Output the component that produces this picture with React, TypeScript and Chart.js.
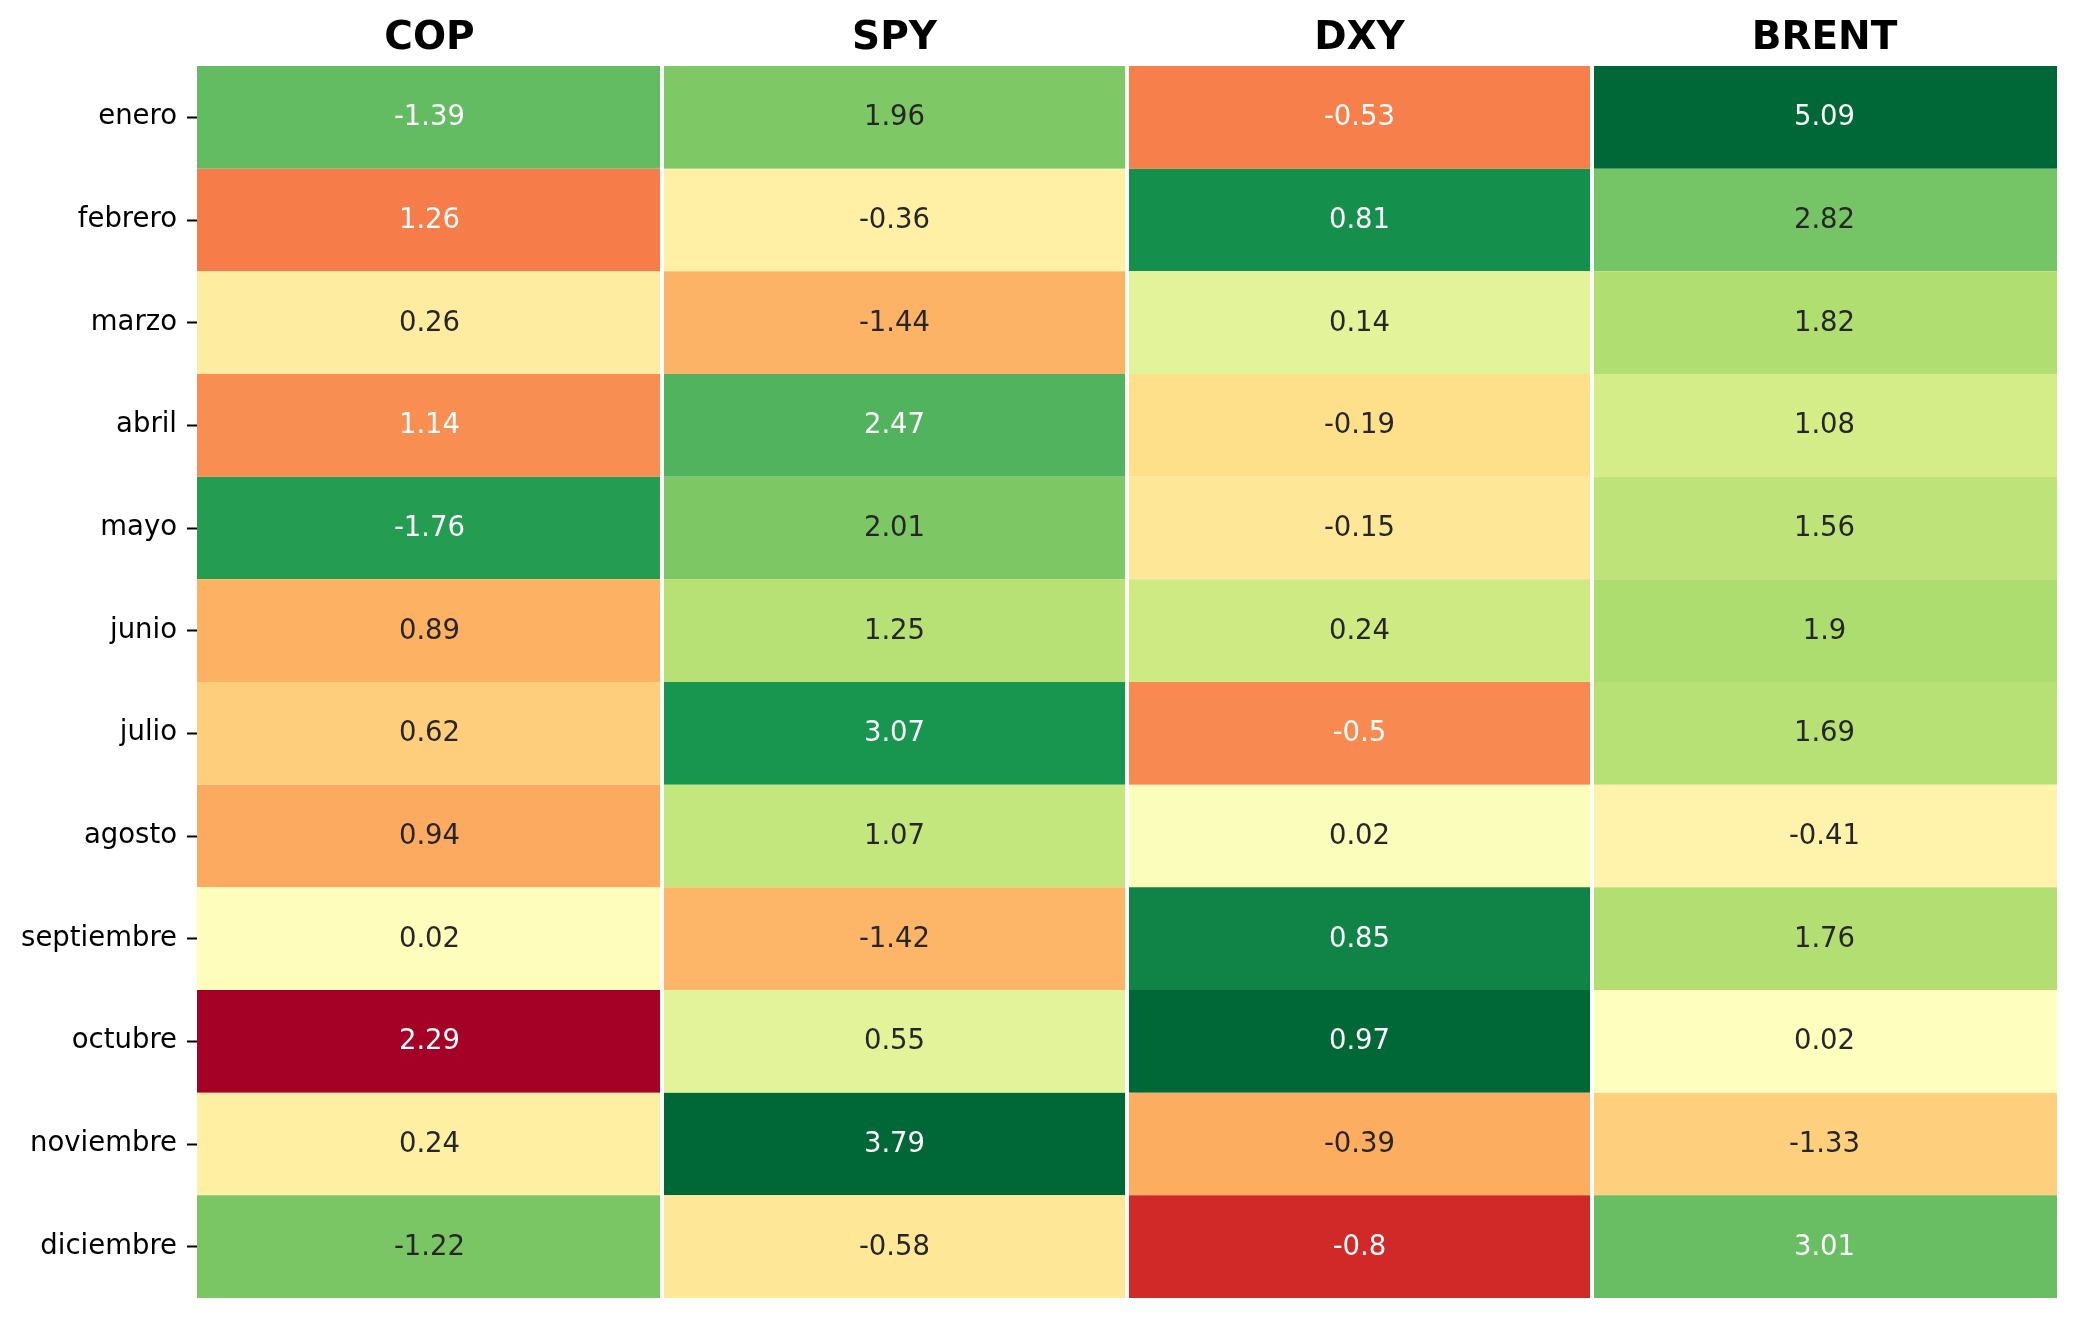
import React, { useEffect, useRef } from "react";
import { Chart, registerables } from "chart.js";

Chart.register(...registerables);

// ---- data ----
const months = [
  "enero", "febrero", "marzo", "abril", "mayo", "junio",
  "julio", "agosto", "septiembre", "octubre", "noviembre", "diciembre",
];
const columns = ["COP", "SPY", "DXY", "BRENT"];
const copValues = [-1.39, 1.26, 0.26, 1.14, -1.76, 0.89, 0.62, 0.94, 0.02, 2.29, 0.24, -1.22];
const spyValues = [1.96, -0.36, -1.44, 2.47, 2.01, 1.25, 3.07, 1.07, -1.42, 0.55, 3.79, -0.58];
const dxyValues = [-0.53, 0.81, 0.14, -0.19, -0.15, 0.24, -0.5, 0.02, 0.85, 0.97, -0.39, -0.8];
const brentValues = [5.09, 2.82, 1.82, 1.08, 1.56, 1.9, 1.69, -0.41, 1.76, 0.02, -1.33, 3.01];
// COP uses the reversed colour scale (a stronger peso is green)
const reversedScale = [true, false, false, false];

// ---- style ----
const RDYLGN = [
  "#a50026", "#d73027", "#f46d43", "#fdae61", "#fee08b", "#ffffbf",
  "#d9ef8b", "#a6d96a", "#66bd63", "#1a9850", "#006837",
];
const FONT = '"DejaVu Sans", "Liberation Sans", sans-serif';

function hexToRgb(h: string): number[] {
  return [1, 3, 5].map((i) => parseInt(h.slice(i, i + 2), 16));
}
const STOPS = RDYLGN.map(hexToRgb);

function cmap(t: number): number[] {
  const N = 256;
  let i = Math.floor(t * N);
  if (i >= N) i = N - 1;
  if (i < 0) i = 0;
  const x = (i / (N - 1)) * (STOPS.length - 1);
  const k = Math.min(STOPS.length - 2, Math.floor(x));
  const f = x - k;
  return STOPS[k].map((c, j) => Math.round(c + (STOPS[k + 1][j] - c) * f));
}

function luminance(rgb: number[]): number {
  const l = rgb.map((c) => {
    const v = c / 255;
    return v <= 0.03928 ? v / 12.92 : Math.pow((v + 0.055) / 1.055, 2.4);
  });
  return 0.2126 * l[0] + 0.7152 * l[1] + 0.0722 * l[2];
}

function colourFor(values: number[], reversed: boolean): number[][] {
  const vmax = Math.max(...values.map((v) => Math.abs(v)));
  return values.map((v) => {
    let t = (v + vmax) / (2 * vmax);
    if (reversed) t = 1 - t;
    return cmap(t);
  });
}

const allValues = [copValues, spyValues, dxyValues, brentValues];

export default function App() {
  const ref = useRef<HTMLCanvasElement | null>(null);

  useEffect(() => {
    if (!ref.current) return;
    const gap = 2.3;
    const datasets = allValues.map((vals, ci) => {
      const rgbs = colourFor(vals, reversedScale[ci]);
      return {
        label: columns[ci],
        data: vals.map(() => [ci, ci + 1]),
        rawValues: vals,
        textColors: rgbs.map((c) => (luminance(c) > 0.408 ? "#262626" : "#ffffff")),
        backgroundColor: rgbs.map((c) => `rgb(${c[0]},${c[1]},${c[2]})`),
        borderColor: "#ffffff",
        borderWidth: {
          left: ci > 0 ? gap : 0,
          right: ci < columns.length - 1 ? gap : 0,
          top: 0,
          bottom: 0,
        },
        borderSkipped: false,
        grouped: false,
        categoryPercentage: 1,
        barPercentage: 1,
      } as any;
    });

    const cellText = {
      id: "cellText",
      afterDatasetsDraw(chart: any) {
        const ctx = chart.ctx;
        ctx.save();
        ctx.font = `27.5px ${FONT}`;
        ctx.textAlign = "center";
        ctx.textBaseline = "middle";
        chart.data.datasets.forEach((ds: any, di: number) => {
          const meta = chart.getDatasetMeta(di);
          meta.data.forEach((el: any, i: number) => {
            const p = el.getCenterPoint();
            ctx.fillStyle = ds.textColors[i];
            ctx.fillText(String(ds.rawValues[i]), p.x, p.y + 1);
          });
        });
        ctx.restore();
      },
    };

    const chart = new Chart(ref.current, {
      type: "bar",
      data: { labels: months, datasets },
      options: {
        indexAxis: "y",
        animation: false,
        responsive: false,
        events: [],
        layout: { padding: { left: 0, top: 0, right: 19, bottom: 20 } },
        plugins: { legend: { display: false }, tooltip: { enabled: false } },
        scales: {
          x: { type: "linear", min: 0, max: columns.length, display: false },
          xTop: {
            type: "category",
            labels: columns,
            position: "top",
            offset: true,
            grid: { display: false, drawTicks: false },
            border: { display: false },
            ticks: {
              color: "#000000",
              padding: 4,
              font: { family: FONT, size: 39, weight: "bold" },
            },
            afterFit: (s: any) => {
              s.height = 66;
              s.paddingLeft = 0;
              s.paddingRight = 0;
            },
          },
          y: {
            type: "category",
            offset: true,
            grid: {
              display: true,
              drawOnChartArea: false,
              drawTicks: true,
              tickLength: 10,
              tickWidth: 2,
              tickColor: "#000000",
              offset: false,
            },
            border: { display: false },
            ticks: {
              color: "#000000",
              padding: 10,
              font: { family: FONT, size: 27.5 },
            },
            afterFit: (s: any) => {
              s.width = 197;
              s.paddingTop = 0;
              s.paddingBottom = 0;
            },
          },
        },
      } as any,
      plugins: [cellText],
    });
    return () => chart.destroy();
  }, []);

  return (
    <div style={{ position: "absolute", left: 0, top: 0, width: 2076, height: 1318, background: "#ffffff" }}>
      <canvas ref={ref} width={2076} height={1318} style={{ display: "block" }} />
    </div>
  );
}
